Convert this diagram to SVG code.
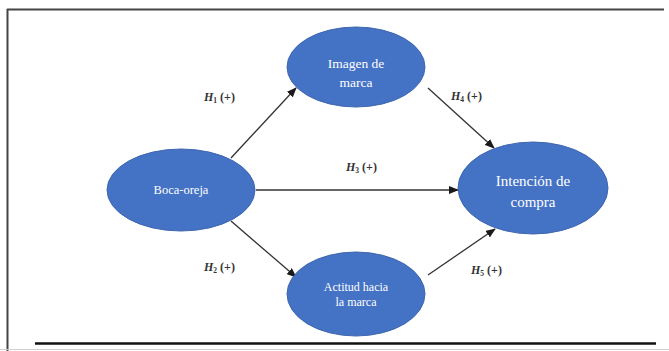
<svg xmlns="http://www.w3.org/2000/svg" width="669" height="351" viewBox="0 0 669 351">
<defs>
<marker id="ah" markerWidth="10" markerHeight="8" refX="9" refY="4" orient="auto" markerUnits="userSpaceOnUse">
<path d="M0,0 L10,4 L0,8 Z" fill="#1a1a1a"/>
</marker>
<style>
.node ellipse{fill:#4472c4;stroke:#3f66ae;stroke-width:1}
.node text{fill:#ffffff;font-family:"Liberation Serif",serif;text-anchor:middle}
.conn line{stroke:#333;stroke-width:1.3;marker-end:url(#ah)}
.lbl{font-family:"Liberation Serif",serif;font-size:12px;fill:#333;font-weight:bold}
.lbl .h{font-style:italic}
.frame{stroke:#444;fill:none}
</style>
</defs>
<rect width="669" height="351" fill="#ffffff"/>
<line class="frame" x1="7" y1="9.5" x2="664" y2="9.5" stroke-width="2"/>
<line class="frame" x1="7.5" y1="9" x2="7.5" y2="351" stroke-width="2"/>
<line x1="35" y1="343.5" x2="656" y2="343.5" stroke="#111" stroke-width="2.5"/>
<line x1="0" y1="349.5" x2="669" y2="349.5" stroke="#cfcfcf" stroke-width="1"/>

<g class="conn">
<line x1="231" y1="158" x2="296" y2="88"/>
<line x1="256" y1="190" x2="458" y2="190"/>
<line x1="231" y1="221" x2="296" y2="277"/>
<line x1="428" y1="88" x2="494" y2="148"/>
<line x1="428" y1="275" x2="495" y2="229"/>
</g>

<g id="boca-oreja" class="node">
<ellipse cx="181" cy="190" rx="74" ry="41"/>
<text x="181" y="194" font-size="12.5">Boca-oreja</text>
</g>
<g id="imagen-de-marca" class="node">
<ellipse cx="356" cy="67" rx="69" ry="40"/>
<text x="356" y="68" font-size="13.5">Imagen de</text>
<text x="356" y="87" font-size="13.5">marca</text>
</g>
<g id="actitud-hacia-la-marca" class="node">
<ellipse cx="356" cy="294" rx="69" ry="42"/>
<text x="356" y="291" font-size="12">Actitud  hacia</text>
<text x="356" y="306" font-size="12">la marca</text>
</g>
<g id="intencion-de-compra" class="node">
<ellipse cx="533" cy="188" rx="75" ry="46"/>
<text x="533" y="186" font-size="15">Intención de</text>
<text x="533" y="207" font-size="15">compra</text>
</g>

<g id="labels">
<text class="lbl" x="204" y="101"><tspan class="h">H</tspan><tspan font-size="7.5" dy="2">1</tspan><tspan dy="-2"> (+)</tspan></text>
<text class="lbl" x="451" y="100"><tspan class="h">H</tspan><tspan font-size="7.5" dy="2">4</tspan><tspan dy="-2"> (+)</tspan></text>
<text class="lbl" x="346" y="171"><tspan class="h">H</tspan><tspan font-size="7.5" dy="2">3</tspan><tspan dy="-2"> (+)</tspan></text>
<text class="lbl" x="204" y="271"><tspan class="h">H</tspan><tspan font-size="7.5" dy="2">2</tspan><tspan dy="-2"> (+)</tspan></text>
<text class="lbl" x="471" y="274"><tspan class="h">H</tspan><tspan font-size="7.5" dy="2">5</tspan><tspan dy="-2"> (+)</tspan></text>
</g>
</svg>
